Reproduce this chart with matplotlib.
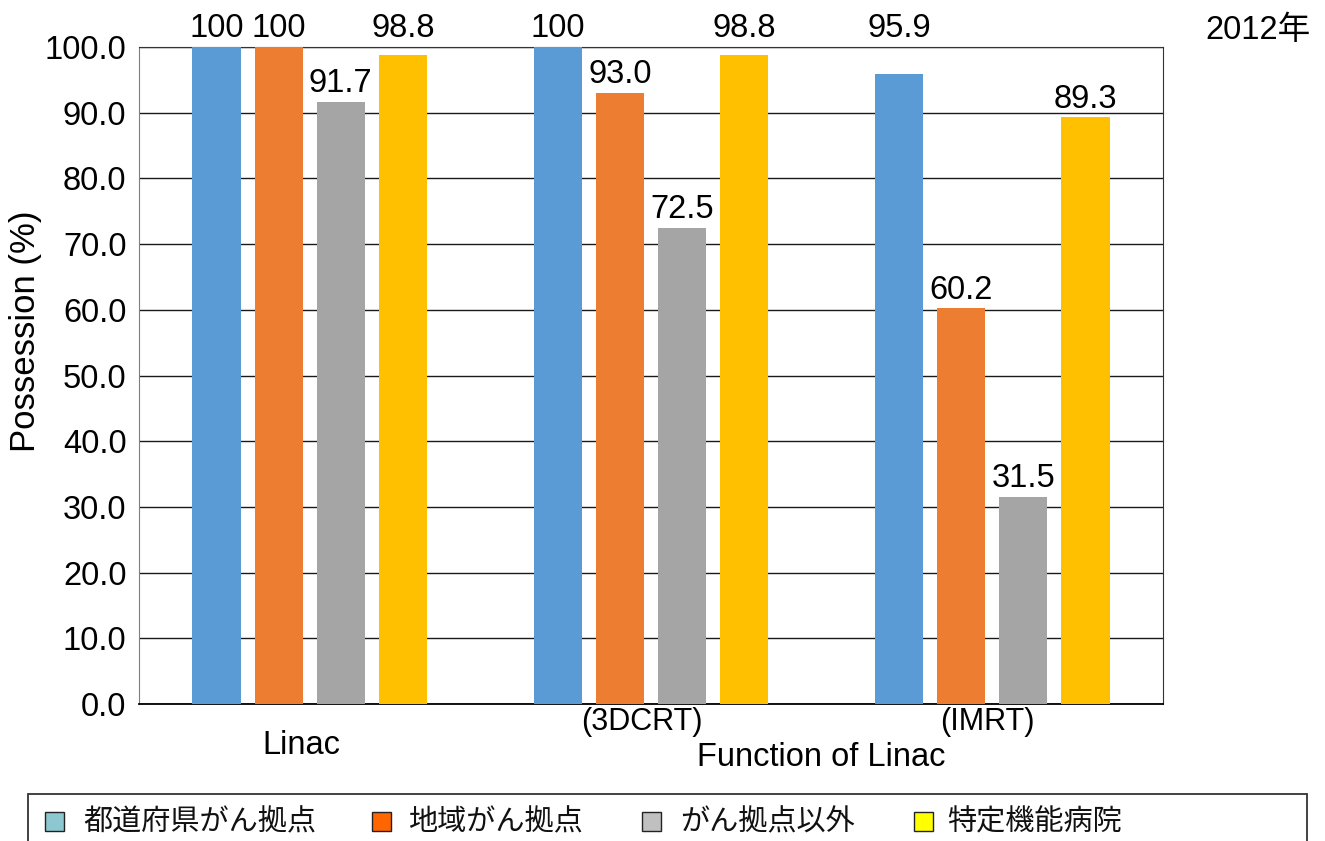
import matplotlib
matplotlib.use('Agg')
import matplotlib.pyplot as plt
import numpy as np
from matplotlib.patches import Rectangle

plt.rcParams['font.family'] = ['Liberation Sans', 'Noto Sans CJK JP']

# 病院区分ごとの保有率 (%)
groups = ['Linac', '(3DCRT)', '(IMRT)']
series = ['都道府県がん拠点', '地域がん拠点', 'がん拠点以外', '特定機能病院']
linac = [100, 100, 91.7, 98.8]
dcrt = [100, 93.0, 72.5, 98.8]
imrt = [95.9, 60.2, 31.5, 89.3]
values = np.array([linac, dcrt, imrt]).T   # 行 = 病院区分

barcolors = ['#5B9BD5', '#ED7D31', '#A5A5A5', '#FFC000']
legcolors = ['#8DC8D0', '#FF6600', '#C0C0C0', '#FFFF00']

W, H = 1325, 841
fig = plt.figure(figsize=(W / 100, H / 100), dpi=100)

def fx(px):
    return px / W

def fy(py):
    return 1 - py / H

ax = fig.add_axes([fx(139), fy(704), fx(1163) - fx(139), fy(47) - fy(704)])

x = np.arange(len(groups))
step = 0.182
width = 0.141
for i in range(len(series)):
    xs = x + (i - 1.5) * step
    ax.bar(xs, values[i], width=width, color=barcolors[i], zorder=3)
    for xx, v in zip(xs, values[i]):
        txt = '100' if v == 100 else '%.1f' % v
        ypos = 100 if v > 95 else v
        ax.annotate(txt, (xx, ypos), xytext=(0, 2), textcoords='offset points',
                    ha='center', va='bottom', fontsize=23.5, annotation_clip=False)

ax.set_xlim(-0.5, 2.5)
ax.set_ylim(0, 100)
ax.set_yticks(np.arange(0, 101, 10))
ax.set_yticklabels(['%.1f' % t for t in np.arange(0, 101, 10)], fontsize=23.5)
ax.set_xticks([])
ax.tick_params(axis='y', length=0, pad=9)
ax.yaxis.grid(True, color='#1a1a1a', lw=1, zorder=0)
ax.set_axisbelow(True)
for side in ['top', 'right']:
    ax.spines[side].set_color('#333333')
ax.spines['left'].set_color('#7f7f7f')
ax.spines['bottom'].set_color('#000000')
ax.spines['bottom'].set_linewidth(1.3)

# 縦軸タイトル
fig.text(fx(26), fy(331), 'Possession (%)', rotation=90, ha='center', va='center',
         fontsize=25)

# 横軸の説明
fig.text(fx(301), fy(745), groups[0], ha='center', va='center', fontsize=23.5)
fig.text(fx(642), fy(722), groups[1], ha='center', va='center', fontsize=22)
fig.text(fx(987), fy(722), groups[2], ha='center', va='center', fontsize=22)
fig.text(fx(821), fy(757), 'Function of Linac', ha='center', va='center', fontsize=23.5)
fig.text(fx(1258), fy(30), '2012年', ha='center', va='center', fontsize=23.5)

# 凡例 (枠付き)
fig.patches.append(Rectangle((fx(28), fy(870)), fx(1307) - fx(28), fy(794) - fy(870),
                             transform=fig.transFigure, fill=False,
                             edgecolor='#333333', lw=1.3))
mark_x = [45, 372, 642, 914]
text_x = [83, 408, 680, 947]
for mx, tx, c, name in zip(mark_x, text_x, legcolors, series):
    fig.patches.append(Rectangle((fx(mx), fy(831)), fx(19), fy(812) - fy(831),
                                 transform=fig.transFigure, facecolor=c,
                                 edgecolor='#222222', lw=1))
    fig.text(fx(tx), fy(822), name, ha='left', va='center', fontsize=21,
             family=['Noto Sans CJK JP', 'DejaVu Sans'], color='#111111')

fig.savefig('out.png', dpi=100)
